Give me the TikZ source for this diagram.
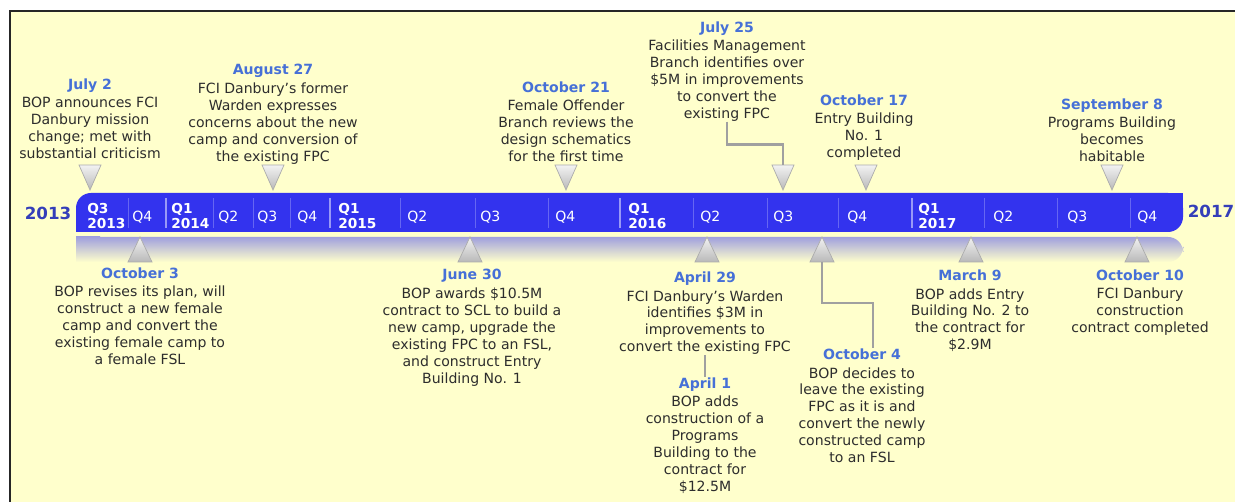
\documentclass[tikz,border=0pt]{standalone}
\usepackage{fontspec}
\setmainfont{DejaVu Sans}

\definecolor{bgyellow}{RGB}{255,255,204}
\definecolor{barblue}{RGB}{51,51,238}
\definecolor{bandtop}{RGB}{160,160,222}
\definecolor{datetext}{RGB}{70,112,215}
\definecolor{yeartext}{RGB}{52,62,185}
\definecolor{bodytext}{RGB}{45,45,45}
\definecolor{leadergray}{RGB}{160,160,160}

\tikzset{
  event/.style={align=center, inner sep=0pt, anchor=north, text=bodytext, font=\fontsize{8}{9.6}\selectfont},
  qlabel/.style={text=white, inner sep=0pt, anchor=west, font=\fontsize{8}{9}\selectfont},
  qyear/.style={qlabel, align=left, font=\fontsize{7.8}{9}\selectfont\bfseries},
  yearlabel/.style={text=yeartext, inner sep=0pt, font=\fontsize{9.5}{11}\selectfont\bfseries},
  flag/.style={top color=gray!10, bottom color=gray!55, draw=gray!65, line width=0.4pt},
  leader/.style={draw=leadergray, line width=1.6pt},
}

\newcommand{\when}[1]{\textcolor{datetext}{\bfseries #1}\\[1.2pt]}
\newcommand{\downflag}[2]{%
  \coordinate (#1) at (#2,165);
  \shadedraw[flag] (#2-11,165) -- (#2+11,165) -- (#2,190) -- cycle;}
\newcommand{\upflag}[2]{%
  \coordinate (#1) at (#2,262);
  \shadedraw[flag] (#2-12,262) -- (#2+12,262) -- (#2,237) -- cycle;}

\begin{document}
\begin{tikzpicture}[x=0.02cm, y=-0.02cm]

\useasboundingbox (0,0) rectangle (1235,502);

\fill[bgyellow] (10,11) rectangle (1235,502);
\draw[black!85, line width=0.04cm] (10,502) -- (10,11) -- (1235,11);

\shade[top color=bandtop, bottom color=bgyellow, rounded corners=0.3cm] (76,237) rectangle (1183,262);
\shade[top color=bandtop, bottom color=bgyellow] (76,237) rectangle (100,262);

\fill[barblue, rounded corners=0.3cm] (76,193) rectangle (1183,232);
\fill[barblue] (1150,193) rectangle (1183,212);
\fill[barblue] (76,212) rectangle (110,232);

\foreach \x in {128,213,253,290,400,475,548,693,767,838,984,1057,1130}
  \draw[barblue!75!white, line width=0.5pt] (\x,198) -- (\x,228);
\foreach \x in {166,330,620,912}
  \draw[barblue!50!white, line width=1.2pt] (\x,198) -- (\x,228);

\foreach \x/\q [count=\i] in {132/Q4,218/Q2,257/Q3,297/Q4,407/Q2,480/Q3,555/Q4,700/Q2,773/Q3,847/Q4,993/Q2,1067/Q3,1137/Q4}
  \node[qlabel] (q\i) at (\x,217) {\q};
\foreach \x/\q/\y [count=\i] in {87/Q3/2013,171/Q1/2014,338/Q1/2015,628/Q1/2016,918/Q1/2017}
  \node[qyear] (qy\i) at (\x,216) {\q\\\y};

\node[yearlabel] (y2013) at (48,213) {2013};
\node[yearlabel] (y2017) at (1211,211) {2017};

\downflag{mjul2}{90}
\downflag{maug27}{273}
\downflag{moct21}{566}
\downflag{mjul25}{783}
\downflag{moct17}{866}
\downflag{msep8}{1112}

\upflag{moct3}{140}
\upflag{mjun30}{470}
\upflag{mapr29}{707}
\upflag{moct4}{822}
\upflag{mmar9}{971}
\upflag{moct10}{1137}

\node[event] (jul2) at (90,78) {\when{July 2}BOP announces FCI\\Danbury mission\\change; met with\\substantial criticism};
\node[event] (aug27) at (273,64) {\when{August 27}FCI Danbury’s former\\Warden expresses\\concerns about the new\\camp and conversion of\\the existing FPC};
\node[event] (oct21) at (566,81) {\when{October 21}Female Offender\\Branch reviews the\\design schematics\\for the first time};
\node[event] (jul25) at (727,21) {\when{July 25}Facilities Management\\Branch identifies over\\\$5M in improvements\\to convert the\\existing FPC};
\node[event] (oct17) at (864,94) {\when{October 17}Entry Building\\No. 1\\completed};
\node[event] (sep8) at (1112,98) {\when{September 8}Programs Building\\becomes\\habitable};

\node[event] (oct3) at (140,267) {\when{October 3}BOP revises its plan, will\\construct a new female\\camp and convert the\\existing female camp to\\a female FSL};
\node[event] (jun30) at (472,269) {\when{June 30}BOP awards \$10.5M\\contract to SCL to build a\\new camp, upgrade the\\existing FPC to an FSL,\\and construct Entry\\Building No. 1};
\node[event] (apr29) at (705,271) {\when{April 29}FCI Danbury’s Warden\\identifies \$3M in\\improvements to\\convert the existing FPC};
\node[event] (apr1) at (705,377) {\when{April 1}BOP adds\\construction of a\\Programs\\Building to the\\contract for\\\$12.5M};
\node[event] (oct4) at (862,348) {\when{October 4}BOP decides to\\leave the existing\\FPC as it is and\\convert the newly\\constructed camp\\to an FSL};
\node[event] (mar9) at (970,269) {\when{March 9}BOP adds Entry\\Building No. 2 to\\the contract for\\\$2.9M};
\node[event] (oct10) at (1140,269) {\when{October 10}FCI Danbury\\construction\\contract completed};

\draw[leader] (jul25.south) -- ++(0,23) -| (mjul25);
\draw[leader, line width=1pt] (apr29.south) -- (apr1.north);
\draw[leader] (moct4) -- ++(0,41) -| ([xshift=0.22cm]oct4.north);

\end{tikzpicture}
\end{document}
